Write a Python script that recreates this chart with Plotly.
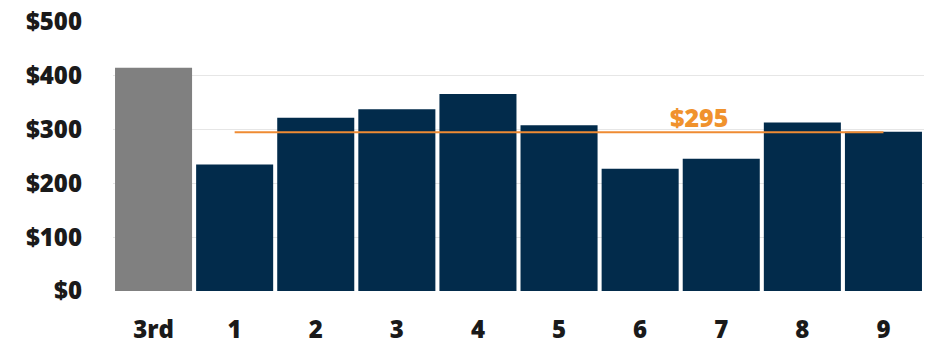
import plotly.graph_objects as go

# Quarterly values: the prior-year "3rd" reference bar followed by periods 1-9
categories = ["3rd", "1", "2", "3", "4", "5", "6", "7", "8", "9"]
values = [415, 235, 322, 338, 366, 308, 227, 246, 313, 296]
average = 295
tick_vals = [0, 100, 200, 300, 400, 500]
tick_text = ["$0", "$100", "$200", "$300", "$400", "$500"]

bar_colors = ["#808080"] + ["#022B4B"] * (len(categories) - 1)

fig = go.Figure()
fig.add_trace(go.Bar(
    x=categories, y=values,
    marker=dict(color=bar_colors, line=dict(width=0)),
    hoverinfo="x+y",
))

# Average line spanning periods 1 through 9
fig.add_trace(go.Scatter(
    x=[categories[1], categories[-1]], y=[average, average],
    mode="lines", line=dict(color="#EF8B33", width=2),
    hoverinfo="skip",
))

fig.add_annotation(
    x=6.72, y=average, xref="x", yref="y",
    text=f"${average}", showarrow=False,
    yanchor="bottom", yshift=-4,
    font=dict(family="Open Sans", size=25, color="#F0922C", weight=800),
)

fig.update_layout(
    width=936, height=348,
    margin=dict(l=113, r=12, t=22, b=57),
    plot_bgcolor="white", paper_bgcolor="white",
    showlegend=False, bargap=0.05,
    font=dict(family="Open Sans", color="#1a1a1a"),
)
fig.update_xaxes(
    type="category", showgrid=False, zeroline=False, showline=False,
    tickfont=dict(family="Open Sans", size=24, weight=800),
    ticklabelstandoff=22, automargin=False,
)
fig.update_yaxes(
    range=[0, 500], tickvals=tick_vals, ticktext=tick_text,
    showgrid=True, gridcolor="#E6E6E6", gridwidth=1,
    zeroline=False, showline=False,
    tickfont=dict(family="Open Sans", size=24, weight=800),
    ticklabelstandoff=30, automargin=False,
)

fig.write_html("out.html")
